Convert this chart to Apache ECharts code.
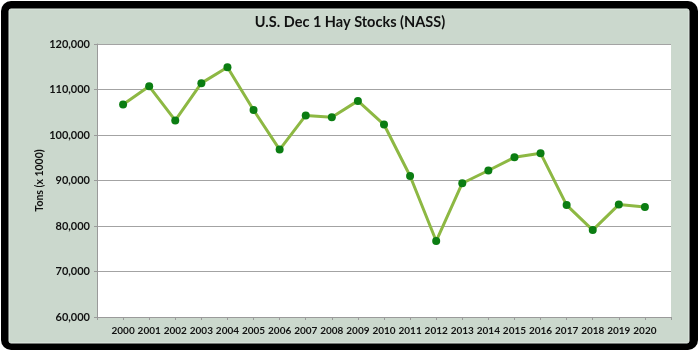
<!DOCTYPE html>
<html>
<head>
<meta charset="utf-8">
<script src="https://cdn.jsdelivr.net/npm/echarts@6/dist/echarts.min.js"></script>
<style>
  html, body { margin: 0; padding: 0; background: #fff; }
  #main { width: 700px; height: 351px; }
</style>
</head>
<body>
<div id="main"></div>
<script>
// data
var years = [2000, 2001, 2002, 2003, 2004, 2005, 2006, 2007, 2008, 2009, 2010,
  2011, 2012, 2013, 2014, 2015, 2016, 2017, 2018, 2019, 2020]
var stocks = [106700, 110700, 103200, 111400, 114900, 105500, 96800, 104300, 103900, 107500, 102300,
  91000, 76700, 89400, 92200, 95100, 96000, 84600, 79100, 84700, 84200]
var yTicks = [60000, 70000, 80000, 90000, 100000, 110000, 120000]

var main = document.getElementById('main')
var myChart = echarts.init(main, null, { renderer: 'canvas' })

var labelFont = { fontFamily: 'Lato', fontWeight: 'bold', color: '#111' }

myChart.setOption({
  animation: false,
  backgroundColor: '#fff',
  graphic: [
    { type: 'rect', z: -10, shape: { x: 1, y: 1, width: 697, height: 349, r: 10 }, style: { fill: '#000' } },
    { type: 'rect', z: -9, shape: { x: 9, y: 9, width: 680, height: 334, r: 2 }, style: { fill: '#cbd8cd', stroke: '#e4ece6', lineWidth: 1 } }
  ],
  title: {
    text: 'U.S. Dec 1 Hay Stocks (NASS)',
    left: 345,
    textAlign: 'center',
    top: 10,
    textStyle: { fontFamily: 'Lato', fontWeight: 'bold', fontSize: 14.5, color: '#111' }
  },
  grid: { left: 97, right: 29, top: 44, bottom: 34, show: true, backgroundColor: '#fff', borderWidth: 0 },
  xAxis: {
    type: 'value',
    min: 1999,
    max: 2021,
    interval: 1,
    splitLine: { show: false },
    axisLine: { show: true, lineStyle: { color: '#9a9a9a', width: 1 } },
    axisTick: { show: true, length: 3, lineStyle: { color: '#9a9a9a' } },
    axisLabel: Object.assign({
      fontSize: 10,
      margin: 9,
      formatter: function (v) { return years.indexOf(v) >= 0 ? String(v) : '' }
    }, labelFont)
  },
  yAxis: {
    type: 'value',
    min: yTicks[0],
    max: yTicks[yTicks.length - 1],
    interval: 10000,
    name: 'Tons (x 1000)',
    nameLocation: 'middle',
    nameGap: 52,
    nameMoveOverlap: false,
    nameRotate: 90,
    nameTextStyle: Object.assign({ fontSize: 10.5 }, labelFont),
    axisLine: { show: true, lineStyle: { color: '#9a9a9a', width: 1 } },
    axisTick: { show: true, length: 3, lineStyle: { color: '#9a9a9a' } },
    splitLine: { lineStyle: { color: '#a3a3a3', width: 1 } },
    axisLabel: Object.assign({
      fontSize: 11,
      margin: 7,
      formatter: function (v) { return v.toLocaleString('en-US') }
    }, labelFont)
  },
  series: [{
    type: 'line',
    data: years.map(function (y, i) { return [y, stocks[i]] }),
    symbol: 'circle',
    symbolSize: 8,
    lineStyle: { color: '#8db843', width: 3 },
    itemStyle: { color: '#0b7d12', borderWidth: 0 }
  }]
})
</script>
</body>
</html>
